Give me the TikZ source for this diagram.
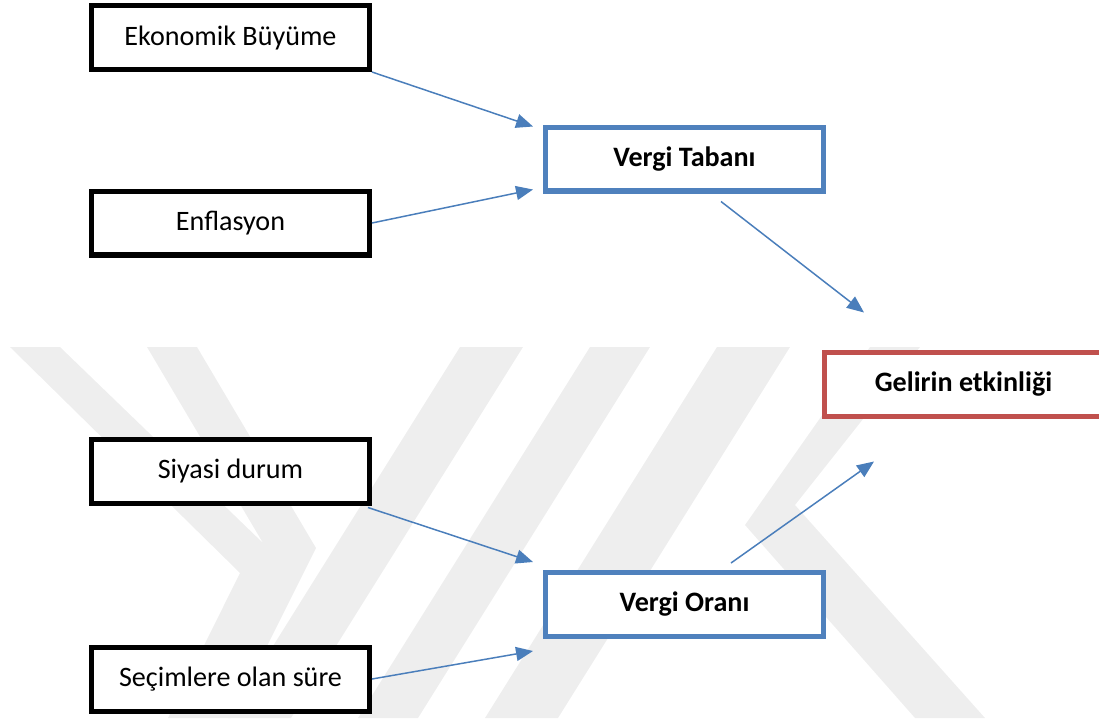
\documentclass[tikz,border=0pt]{standalone}
\usepackage{fontspec}
\setmainfont{Carlito}
\usetikzlibrary{arrows.meta}

\definecolor{boxblue}{HTML}{4F81BD}
\definecolor{boxred}{HTML}{C0504D}
\definecolor{lineblue}{HTML}{4A7EBB}
\definecolor{wmgray}{HTML}{EEEEEE}

\tikzset{
  box/.style={draw=black, line width=2.85pt, fill=white, minimum width=5.56cm,
    minimum height=1.28cm, font=\fontsize{16}{19}\selectfont},
  bluebox/.style={box, draw=boxblue, font=\fontsize{16}{19}\selectfont\bfseries},
  redbox/.style={box, draw=boxred, font=\fontsize{16}{19}\selectfont\bfseries},
  arr/.style={draw=lineblue, line width=0.85pt, -{Triangle[length=0.34cm,width=0.28cm]}},
  wm/.style={fill=wmgray, draw=none}
}

\begin{document}
\begin{tikzpicture}[x=0.02cm, y=-0.02cm]
\useasboundingbox (0,0) rectangle (1099,718);
% watermark in the background
\fill[wm] (10,347) -- (60,347) -- (263,543) -- (147,347) -- (197,347) -- (316,548)
  -- (231,718) -- (168,718) -- (240,573) -- cycle;
\fill[wm] (460,347) -- (523,347) -- (291,718) -- (228,718) -- cycle;
\fill[wm] (590,347) -- (650,347) -- (418,718) -- (358,718) -- cycle;
\fill[wm] (717,347) -- (790,347) -- (558,718) -- (485,718) -- cycle;
\fill[wm] (870,347) -- (920,347) -- (795,505) -- (985,718) -- (915,718) -- (745,525) -- cycle;

% boxes
\node[box] (eko) at (230.5,37.5) {Ekonomik Büyüme};
\node[box] (enf) at (230.5,223) {Enflasyon};
\node[box] (siy) at (230.5,471) {Siyasi durum};
\node[box] (sec) at (230.5,679) {Seçimlere olan süre};
\node[bluebox] (vt) at (684.5,159) {Vergi Tabanı};
\node[bluebox] (vo) at (684.5,604.5) {Vergi Oranı};
\node[redbox] (gel) at (963.5,384) {Gelirin etkinliği};

% arrows
\draw[arr] (eko.south east) -- ([xshift=-0.2cm,yshift=-0.04cm]vt.north west);
\draw[arr] (enf.east) -- ([xshift=-0.2cm,yshift=0.08cm]vt.south west);
\draw[arr] ([xshift=0.73cm,yshift=-0.16cm]vt.south) -- ([xshift=0.84cm,yshift=0.74cm]gel.north west);
\draw[arr] ([xshift=-0.08cm,yshift=-0.04cm]siy.south east) -- ([xshift=-0.2cm,yshift=0.16cm]vo.north west);
\draw[arr] (sec.east) -- ([xshift=-0.2cm,yshift=-0.24cm]vo.south west);
\draw[arr] ([xshift=0.93cm,yshift=0.14cm]vo.north) -- ([xshift=1.04cm,yshift=-0.86cm]gel.south west);
\end{tikzpicture}
\end{document}
